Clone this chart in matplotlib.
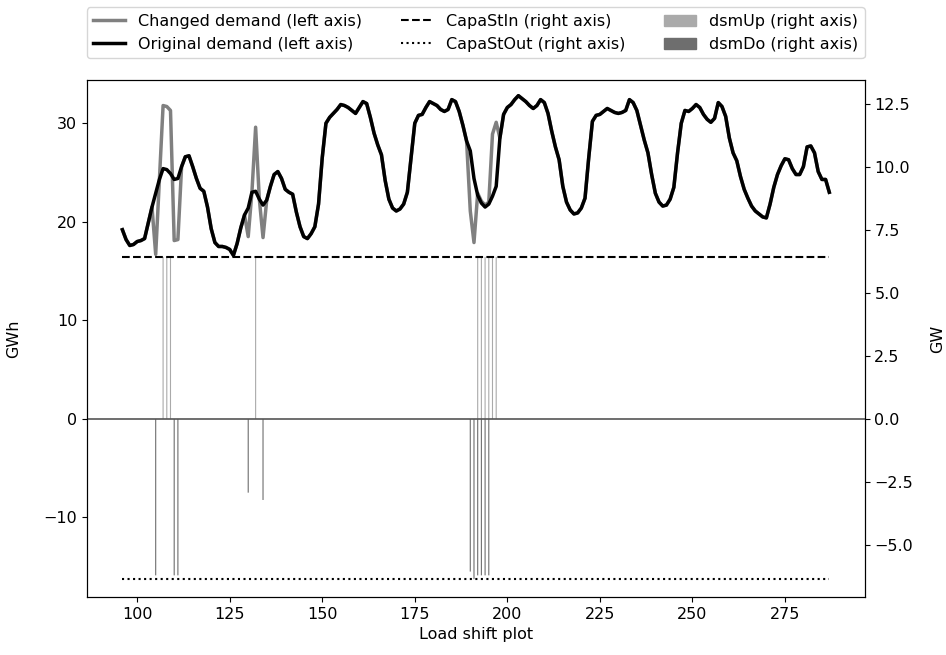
import matplotlib
matplotlib.use("Agg")
import matplotlib.pyplot as plt
from matplotlib.lines import Line2D
from matplotlib.patches import Patch

plt.rcParams["font.size"] = 11.5

hours = list(range(96, 288))

original_demand = [
    19.2, 18.2, 17.6, 17.7, 18.0, 18.1, 18.3, 19.9, 21.5, 22.9,
    24.3, 25.4, 25.3, 24.9, 24.3, 24.4, 25.6, 26.6, 26.7, 25.6,
    24.4, 23.4, 23.1, 21.5, 19.3, 17.9, 17.5, 17.5, 17.4, 17.2,
    16.6, 17.8, 19.4, 20.7, 21.4, 23.0, 23.1, 22.3, 21.7, 22.2,
    23.6, 24.8, 25.1, 24.4, 23.3, 23.0, 22.8, 21.0, 19.5, 18.5,
    18.3, 18.8, 19.5, 21.8, 26.5, 30.0, 30.6, 31.0, 31.4, 31.9,
    31.8, 31.6, 31.3, 31.0, 31.6, 32.2, 32.0, 30.6, 29.0, 27.8,
    26.8, 24.2, 22.3, 21.4, 21.1, 21.3, 21.8, 23.0, 26.5, 30.0,
    30.8, 30.9, 31.6, 32.2, 32.0, 31.8, 31.4, 31.2, 31.4, 32.4,
    32.2, 31.2, 29.8, 28.2, 27.2, 24.4, 22.7, 21.9, 21.5, 21.8,
    22.6, 23.6, 28.5, 30.9, 31.6, 31.9, 32.4, 32.8, 32.5, 32.2,
    31.8, 31.5, 31.8, 32.4, 32.1, 31.0, 29.2, 27.6, 26.3, 23.6,
    22.0, 21.2, 20.8, 20.9, 21.4, 22.4, 26.5, 30.2, 30.8, 30.9,
    31.2, 31.5, 31.3, 31.1, 31.0, 31.1, 31.3, 32.4, 32.1, 31.3,
    29.8, 28.3, 27.0, 24.8, 22.9, 22.0, 21.6, 21.7, 22.3, 23.5,
    27.0, 30.0, 31.3, 31.2, 31.5, 31.9, 31.6, 30.9, 30.4, 30.1,
    30.5, 32.1, 31.7, 30.7, 28.5, 27.0, 26.2, 24.6, 23.3, 22.4,
    21.6, 21.1, 20.8, 20.5, 20.4, 21.8, 23.5, 24.8, 25.7, 26.4,
    26.3, 25.4, 24.8, 24.8, 25.6, 27.6, 27.7, 27.0, 25.1, 24.3,
    24.3, 23.0,
]

changed_demand = [
    19.2, 18.2, 17.6, 17.7, 18.0, 18.1, 18.3, 19.9, 21.5, 16.7,
    24.3, 31.8, 31.7, 31.3, 18.1, 18.2, 25.6, 26.6, 26.7, 25.6,
    24.4, 23.4, 23.1, 21.5, 19.3, 17.9, 17.5, 17.5, 17.4, 17.2,
    16.6, 17.8, 19.4, 20.7, 18.5, 23.0, 29.6, 22.3, 18.4, 22.2,
    23.6, 24.8, 25.1, 24.4, 23.3, 23.0, 22.8, 21.0, 19.5, 18.5,
    18.3, 18.8, 19.5, 21.8, 26.5, 30.0, 30.6, 31.0, 31.4, 31.9,
    31.8, 31.6, 31.3, 31.0, 31.6, 32.2, 32.0, 30.6, 29.0, 27.8,
    26.8, 24.2, 22.3, 21.4, 21.1, 21.3, 21.8, 23.0, 26.5, 30.0,
    30.8, 30.9, 31.6, 32.2, 32.0, 31.8, 31.4, 31.2, 31.4, 32.4,
    32.2, 31.2, 29.8, 28.2, 21.1, 17.9, 22.9, 22.1, 21.7, 22.0,
    28.9, 30.1, 28.5, 30.9, 31.6, 31.9, 32.4, 32.8, 32.5, 32.2,
    31.8, 31.5, 31.8, 32.4, 32.1, 31.0, 29.2, 27.6, 26.3, 23.6,
    22.0, 21.2, 20.8, 20.9, 21.4, 22.4, 26.5, 30.2, 30.8, 30.9,
    31.2, 31.5, 31.3, 31.1, 31.0, 31.1, 31.3, 32.4, 32.1, 31.3,
    29.8, 28.3, 27.0, 24.8, 22.9, 22.0, 21.6, 21.7, 22.3, 23.5,
    27.0, 30.0, 31.3, 31.2, 31.5, 31.9, 31.6, 30.9, 30.4, 30.1,
    30.5, 32.1, 31.7, 30.7, 28.5, 27.0, 26.2, 24.6, 23.3, 22.4,
    21.6, 21.1, 20.8, 20.5, 20.4, 21.8, 23.5, 24.8, 25.7, 26.4,
    26.3, 25.4, 24.8, 24.8, 25.6, 27.6, 27.7, 27.0, 25.1, 24.3,
    24.3, 23.0,
]

capa_st_in = 6.43
capa_st_out = -6.35

dsm_up_hours = [107, 108, 109, 132, 192, 193, 194, 195, 196, 197]
dsm_up_vals = [6.43, 6.43, 6.43, 6.43, 6.43, 6.43, 6.43, 6.43, 6.43, 6.43]
dsm_do_hours = [105, 110, 111, 130, 134, 190, 191, 192, 193, 194, 195]
dsm_do_vals = [-6.2, -6.2, -6.2, -2.92, -3.21, -6.05, -6.35, -6.2, -6.2, -6.2, -6.2]

fig = plt.figure(figsize=(9.46, 6.55), dpi=100)
ax = fig.add_axes([0.092, 0.0885, 0.822, 0.7895])
ax2 = ax.twinx()

ax.plot(hours, changed_demand, color="gray", lw=2.5, zorder=3)
ax.plot(hours, original_demand, color="black", lw=2.5, zorder=4)

ax2.plot([hours[0], hours[-1]], [capa_st_in, capa_st_in], color="black", ls="--", lw=1.5)
ax2.plot([hours[0], hours[-1]], [capa_st_out, capa_st_out], color="black", ls=":", lw=1.5)
ax2.bar(dsm_up_hours, dsm_up_vals, width=0.3, color="#aaaaaa", linewidth=0, snap=False)
ax2.bar(dsm_do_hours, dsm_do_vals, width=0.3, color="#6e6e6e", linewidth=0, snap=False)
ax2.axhline(0, color="#555555", lw=1.2)

ax.set_xlim(86.45, 296.55)
ax.set_ylim(-18.07, 34.4)
ax2.set_ylim(-7.06, 13.45)
ax.set_xticks([100, 125, 150, 175, 200, 225, 250, 275])
ax.set_yticks([-10, 0, 10, 20, 30])
ax2.set_yticks([-5.0, -2.5, 0.0, 2.5, 5.0, 7.5, 10.0, 12.5])

ax.set_ylabel("GWh", labelpad=16)
ax2.set_ylabel("GW", labelpad=12)
ax.set_xlabel("Load shift plot")

handles = [
    Line2D([], [], color="gray", lw=2.5),
    Line2D([], [], color="black", lw=2.5),
    Line2D([], [], color="black", ls="--", lw=1.5),
    Line2D([], [], color="black", ls=":", lw=1.5),
    Patch(color="#aaaaaa"),
    Patch(color="#6e6e6e"),
]
labels = [
    "Changed demand (left axis)",
    "Original demand (left axis)",
    "CapaStIn (right axis)",
    "CapaStOut (right axis)",
    "dsmUp (right axis)",
    "dsmDo (right axis)",
]
ax.legend(handles, labels, ncol=3, loc="lower left",
          bbox_to_anchor=(0.0, 1.042, 1.0, 0.1), mode="expand",
          borderaxespad=0.0, fontsize=11.5, handlelength=2.0)

fig.savefig("out.png", dpi=100)
